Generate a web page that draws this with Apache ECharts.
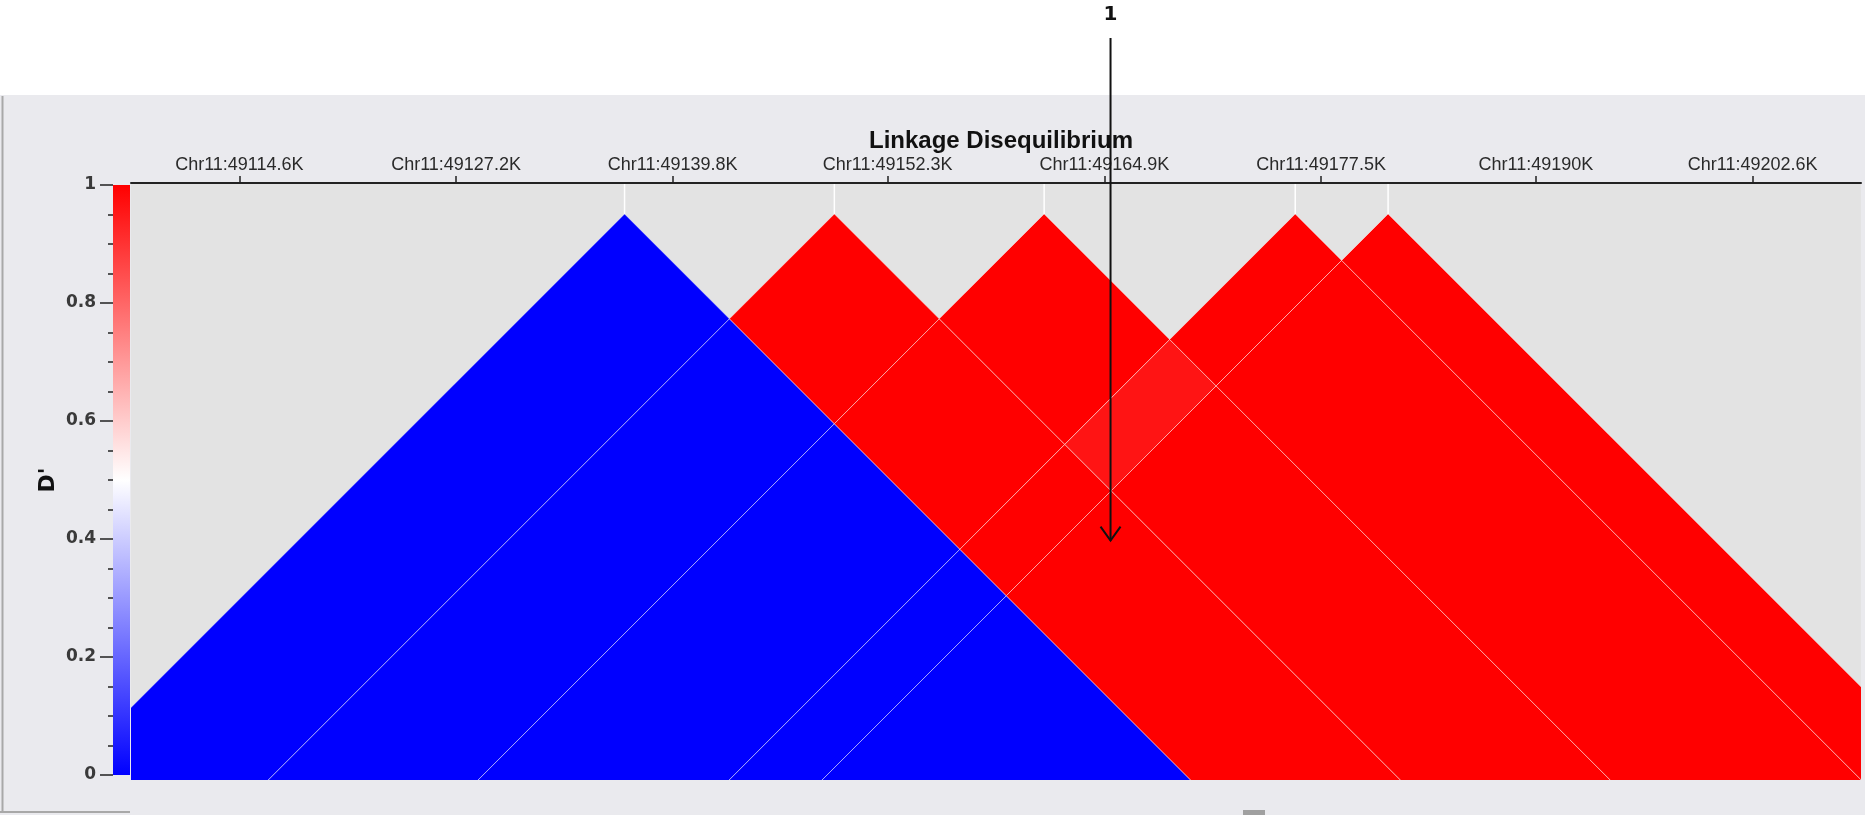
<!DOCTYPE html>
<html><head><meta charset="utf-8">
<script src="https://cdn.jsdelivr.net/npm/echarts@6/dist/echarts.min.js"></script>
<style>html,body{margin:0;padding:0;background:#ffffff;}#c{width:1865px;height:815px;}</style>
</head><body><div id="c"></div>
<script>
// ---------------- data ----------------
const chromosome = 'Chr11';
const titleText = 'Linkage Disequilibrium';
const tickValues = [49114.6, 49127.2, 49139.8, 49152.3, 49164.9, 49177.5, 49190.0, 49202.6]; // K
const axisRange = [49108.3, 49208.9];                                   // K
const binEdges = [49137.0, 49149.2, 49161.4, 49176.0, 49181.4];         // marker boundaries (K)
// D' for pairs (i, j), i < j; row i lists j = i+1 ... 5
const dprimeRow0 = [0, 0, 0, 0, 0];
const dprimeRow1 = [1, 1, 1, 1];
const dprimeRow2 = [1, 0.96, 1];
const dprimeRow3 = [1, 1];
const dprimeRow4 = [1];
const colorScale = ['#0000ff', '#ffffff', '#ff0000'];
const colorbarLabel = "D'";
const annotationText = '1';
const annotationTarget = [49165.26, 19.0]; // position (K), depth (K)

const dprimeRows = [dprimeRow0, dprimeRow1, dprimeRow2, dprimeRow3, dprimeRow4];
const cellData = [];
dprimeRows.forEach((row, i) => row.forEach((v, k) => cellData.push([i, i + 1 + k, v])));

// ---------------- chart ----------------
const chart = echarts.init(document.getElementById('c'), null, {renderer: 'canvas'});
const FONT = '"Liberation Sans", Arial, sans-serif';
const BFONT = '"DejaVu Sans", sans-serif';

function xMapper(api) {
  const x0 = api.coord([axisRange[0], 0])[0];
  const x1 = api.coord([axisRange[1], 0])[0];
  return v => x0 + (v - axisRange[0]) * (x1 - x0) / (axisRange[1] - axisRange[0]);
}

function renderCell(params, api) {
  const i = api.value(0), j = api.value(1);
  const lo = axisRange[0] - 80, hi = axisRange[1] + 80;
  const edges = [lo].concat(binEdges, [hi]);
  const a0 = edges[i], a1 = edges[i + 1], b0 = edges[j], b1 = edges[j + 1];
  const px = xMapper(api);
  const apexY = api.coord([axisRange[0], 0])[1];
  const pt = (a, b) => { const xa = px(a), xb = px(b); return [(xa + xb) / 2, apexY + (xb - xa) / 2]; };
  return {
    type: 'polygon',
    shape: {points: [pt(a0, b0), pt(a1, b0), pt(a1, b1), pt(a0, b1)]},
    style: {fill: api.visual('color'), stroke: 'rgba(255,255,255,0.45)', lineWidth: 1}
  };
}

function renderApexLine(params, api) {
  const p = api.coord([api.value(0), 0]);
  return {
    type: 'line',
    shape: {x1: p[0], y1: params.coordSys.y, x2: p[0], y2: p[1]},
    style: {stroke: '#ffffff', lineWidth: 1.5}
  };
}

function renderColorbar(params, api) {
  const tl = api.coord([0, 1]);
  const br = api.coord([1, 0]);
  return {
    type: 'rect',
    shape: {x: tl[0], y: tl[1], width: br[0] - tl[0], height: br[1] - tl[1]},
    style: {
      fill: new echarts.graphic.LinearGradient(0, 0, 0, 1, [
        {offset: 0, color: colorScale[2]},
        {offset: 0.5, color: colorScale[1]},
        {offset: 1, color: colorScale[0]}
      ])
    }
  };
}

const baseGraphic = [
  {type: 'rect', z: -10, shape: {x: 0, y: 95, width: 1865, height: 720}, style: {fill: '#eaeaee'}},
  {type: 'line', z: -9, shape: {x1: 2.5, y1: 96, x2: 2.5, y2: 812}, style: {stroke: '#a8a8a8', lineWidth: 2}},
  {type: 'line', z: -9, shape: {x1: 0, y1: 812, x2: 130, y2: 812}, style: {stroke: '#a8a8a8', lineWidth: 2}},
  {type: 'rect', z: -9, shape: {x: 1243, y: 810, width: 22, height: 5}, style: {fill: '#a0a0a0'}}
];

const option = {
  backgroundColor: '#ffffff',
  animation: false,
  title: {
    text: titleText,
    left: 996, top: 124, textAlign: 'center',
    textStyle: {fontFamily: FONT, fontSize: 24, fontWeight: 'bold', color: '#111111'}
  },
  grid: [
    {left: 131, right: 4, top: 183, bottom: 35, show: true, backgroundColor: '#e3e3e3', borderWidth: 0, z: 0},
    {left: 113, width: 17, top: 185, height: 590}
  ],
  visualMap: {
    type: 'continuous', show: false, min: 0, max: 1, dimension: 2, seriesIndex: 0,
    inRange: {color: colorScale}
  },
  xAxis: [
    {
      type: 'value', gridIndex: 0, position: 'top', min: axisRange[0], max: axisRange[1], z: 10,
      axisLine: {show: true, onZero: false, lineStyle: {color: '#222222', width: 2}},
      axisTick: {show: true, customValues: tickValues, length: 7, lineStyle: {color: '#222222', width: 1.5}},
      axisLabel: {
        show: true, customValues: tickValues, margin: 9,
        formatter: v => chromosome + ':' + v + 'K',
        fontFamily: FONT, fontSize: 18, color: '#2a2a2a'
      },
      splitLine: {show: false}
    },
    {type: 'value', gridIndex: 1, min: 0, max: 1, show: false}
  ],
  yAxis: [
    {type: 'value', gridIndex: 0, min: -1.8, max: 32.92, inverse: true, show: false},
    {
      type: 'value', gridIndex: 1, min: 0, max: 1, interval: 0.2, position: 'left', z: 10,
      name: colorbarLabel, nameLocation: 'middle', nameRotate: 90, nameGap: 54,
      nameTextStyle: {fontFamily: BFONT, fontSize: 22, fontWeight: 'bold', color: '#111111'},
      axisLine: {show: false, onZero: false},
      axisTick: {show: true, length: 13, lineStyle: {color: '#222222', width: 1.5}},
      minorTick: {show: true, splitNumber: 4, length: 5, lineStyle: {color: '#222222', width: 1.5}},
      axisLabel: {margin: 17, fontFamily: BFONT, fontSize: 17, fontWeight: 'bold', color: '#3a3a3a'},
      splitLine: {show: false}, minorSplitLine: {show: false}
    }
  ],
  series: [
    {type: 'custom', xAxisIndex: 0, yAxisIndex: 0, clip: true, renderItem: renderCell, data: cellData, z: 2},
    {type: 'custom', xAxisIndex: 0, yAxisIndex: 0, clip: true, renderItem: renderApexLine,
      data: binEdges.map(v => [v, 0]), z: 3},
    {type: 'custom', xAxisIndex: 1, yAxisIndex: 1, renderItem: renderColorbar, data: [[0, 0]], z: 2}
  ],
  graphic: baseGraphic
};
chart.setOption(option);

// annotation arrow, anchored to data coordinates
const tip = chart.convertToPixel({xAxisIndex: 0, yAxisIndex: 0}, annotationTarget);
chart.setOption({
  graphic: baseGraphic.concat([
    {type: 'text', z: 100, x: tip[0], y: 15,
      style: {text: annotationText, fontFamily: BFONT, fontSize: 20, fontWeight: 'bold', fill: '#111111',
        align: 'center', verticalAlign: 'middle'}},
    {type: 'line', z: 100, shape: {x1: tip[0], y1: 38, x2: tip[0], y2: tip[1]},
      style: {stroke: '#111111', lineWidth: 2}},
    {type: 'polyline', z: 100, shape: {points: [[tip[0] - 10, tip[1] - 14], [tip[0], tip[1]], [tip[0] + 10, tip[1] - 14]]},
      style: {stroke: '#111111', lineWidth: 2, fill: null}}
  ])
}, {replaceMerge: ['graphic']});
</script>
</body></html>
